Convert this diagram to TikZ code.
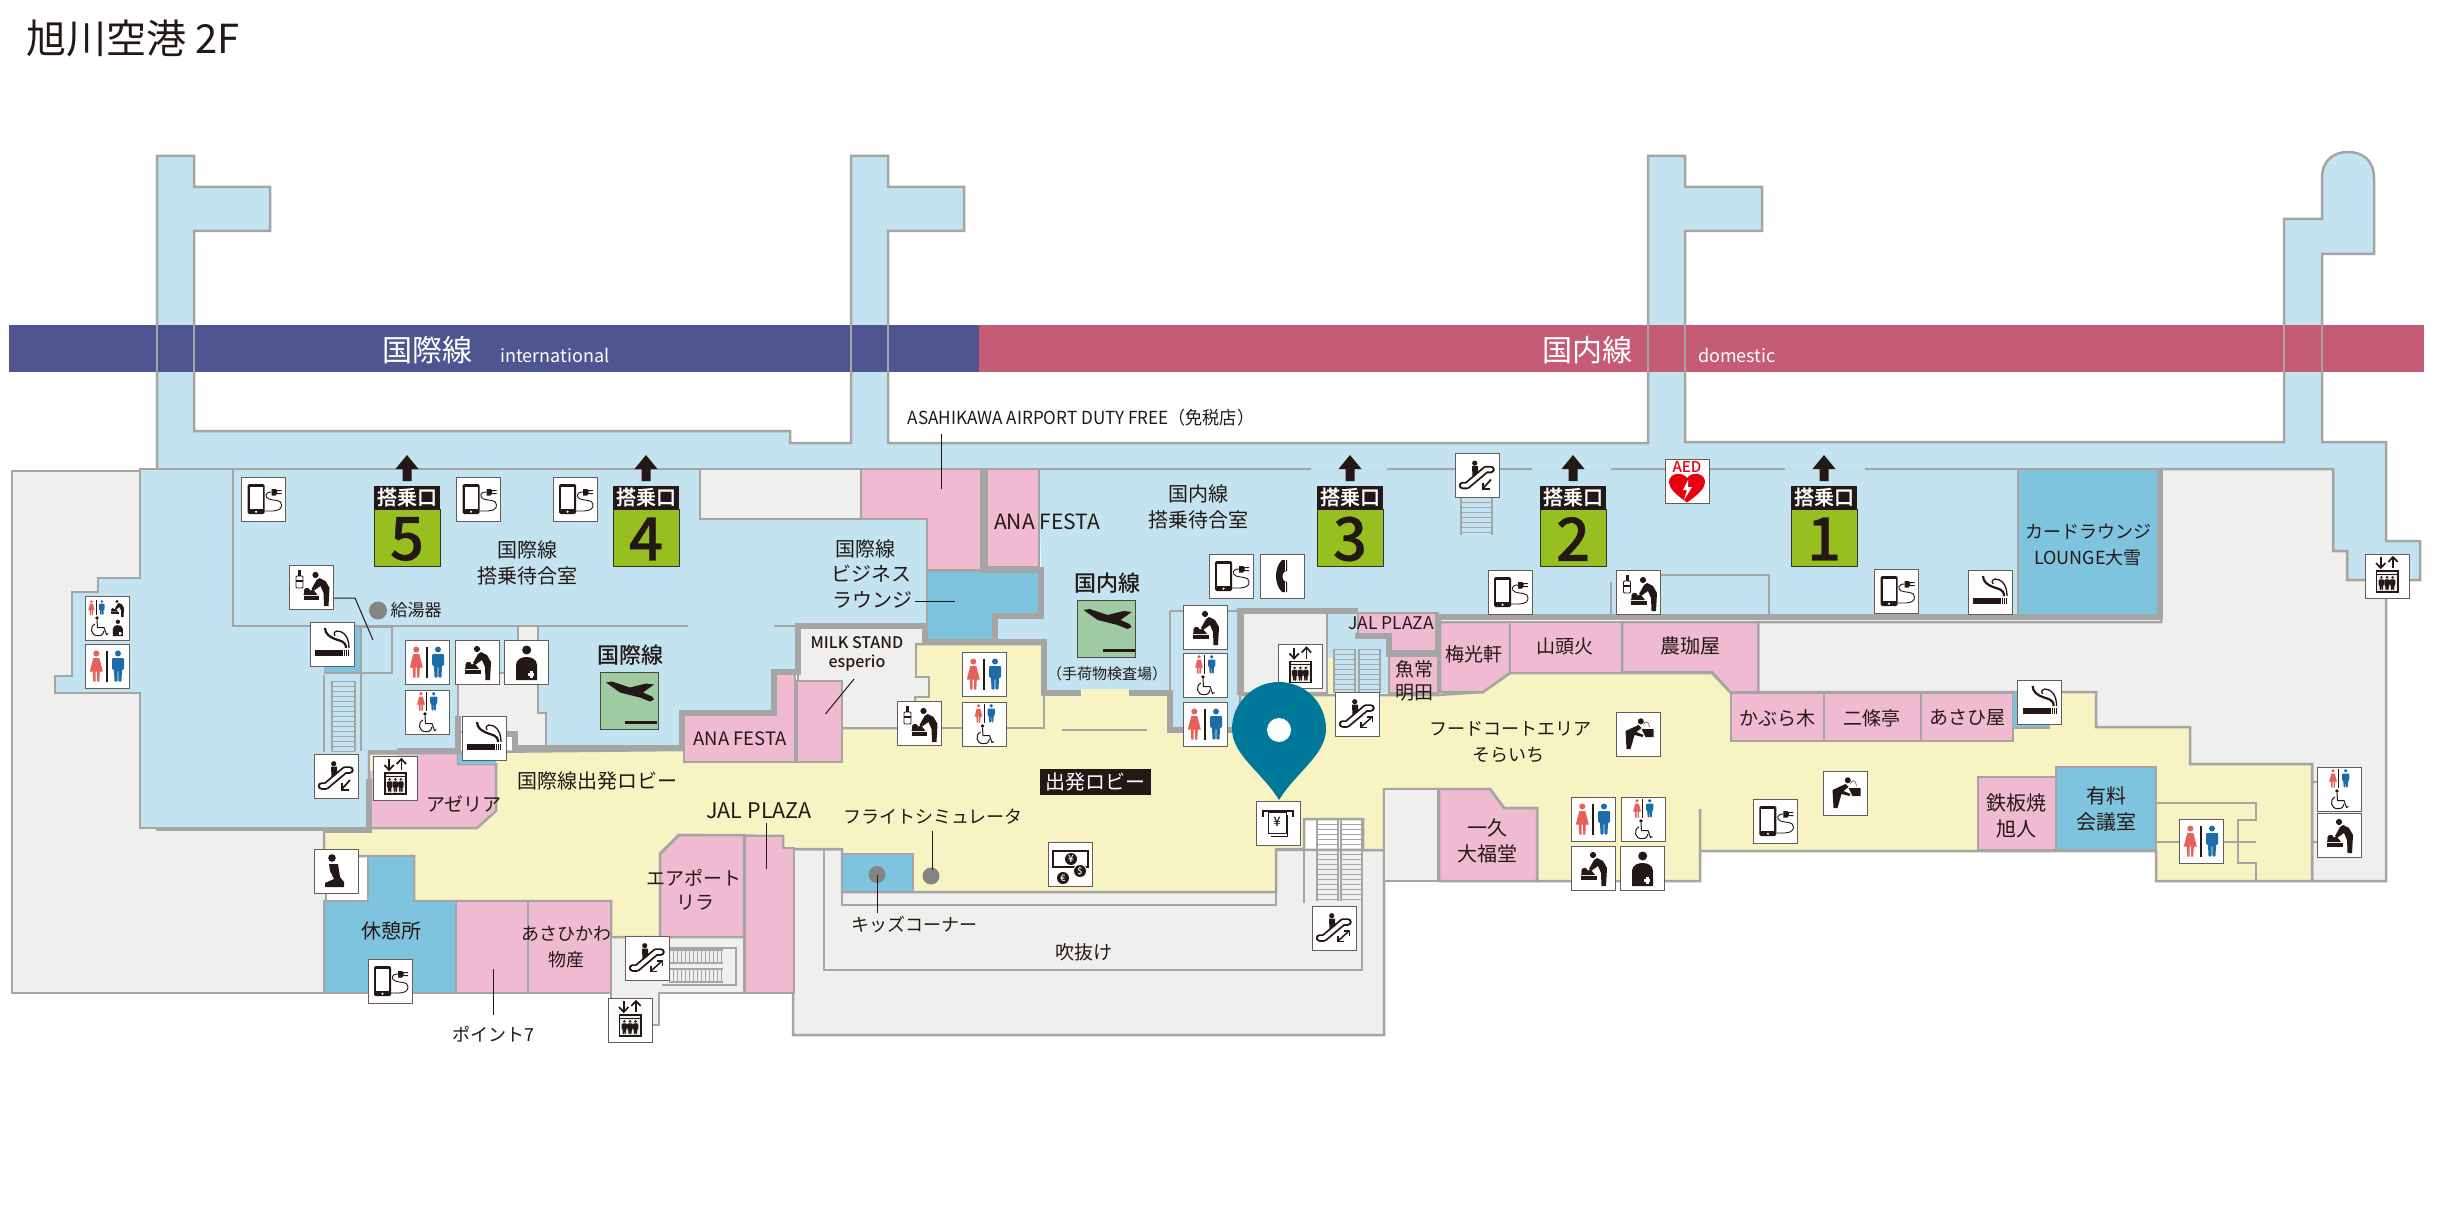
\documentclass[tikz,border=0pt]{standalone}
\usepackage{fontspec}
\setmainfont{Noto Sans CJK JP}
\newfontfamily\medf{Noto Sans CJK JP Medium}
\newfontfamily\gatef[FakeBold=0.5]{Noto Sans CJK JP Medium}
\definecolor{lbl}{HTML}{C3E3F0}
\definecolor{mbl}{HTML}{7FC4DF}
\definecolor{pnk}{HTML}{F0BBD0}
\definecolor{ylw}{HTML}{F7F3C2}
\definecolor{gry}{HTML}{EFEFED}
\definecolor{wallc}{HTML}{A5A5A5}
\definecolor{grn}{HTML}{97BF1F}
\definecolor{pln}{HTML}{9ECBA1}
\definecolor{bnav}{HTML}{4F5590}
\definecolor{brd}{HTML}{C45C76}
\definecolor{pinc}{HTML}{007899}
\definecolor{ink}{HTML}{231815}
\definecolor{frd}{HTML}{E8605A}
\definecolor{mbu}{HTML}{1B6CA8}
\definecolor{aedr}{HTML}{E60012}
\tikzset{
  wall/.style={draw=wallc,line width=2.5pt,line join=miter},
  twall/.style={draw=wallc,line width=6pt,line join=miter},
  stair/.style={draw=wallc,line width=1.3pt},
  leader/.style={draw=ink,line width=1pt},
  txt/.style={inner sep=0pt,text=ink,align=center},
  iconbox/.style={draw=ink!70,line width=1pt,fill=white},
}
\newcounter{lbc}
\newcommand\Lab[4]{\stepcounter{lbc}\node[txt,font=\fontsize{#3}{#3}\selectfont] (t\thelbc) at (#1,#2) {#4};}
\newcommand\LabN[4]{\stepcounter{lbc}\node[txt,font=\fontsize{#3}{#3}\selectfont] (t\thelbc) at (#1,#2) {\scalebox{.95}[1]{#4}};}
\newcommand\LabB[4]{\stepcounter{lbc}\node[txt,font=\medf\fontsize{#3}{#3}\selectfont] (t\thelbc) at (#1,#2) {#4};}
\newcommand\Man[4]{\begin{scope}[shift={(#1,#2)},scale=#3]\fill[#4] (0,3) circle[radius=3];
\fill[#4,rounded corners=1pt] (-6,7.5) -- (6,7.5) -- (6,19) -- (4,19) -- (3.5,31) -- (0.5,31) -- (0.3,20) -- (-0.3,20) -- (-0.5,31) -- (-3.5,31) -- (-4,19) -- (-6,19) -- cycle;\end{scope}}
\newcommand\Woman[4]{\begin{scope}[shift={(#1,#2)},scale=#3]\fill[#4] (0,3) circle[radius=3];
\fill[#4] (-3,7.5) -- (3,7.5) -- (6.5,21) -- (3.5,21) -- (3,31) -- (0.8,31) -- (0.8,21) -- (-0.8,21) -- (-0.8,31) -- (-3,31) -- (-3.5,21) -- (-6.5,21) -- cycle;\end{scope}}
\newcommand\icCharge{\fill[ink,rounded corners=1.5pt] (6,7) rectangle (23,37);\fill[white] (8,10) rectangle (21,32);\fill[white] (14.5,34.7) circle[radius=1.2];
\fill[ink] (30,12) -- (34,12) -- (35,13) -- (40,13) -- (40,14.2) -- (35.5,14.2) -- (35.5,16) -- (40,16) -- (40,17.2) -- (35,17.2) -- (34,18.5) -- (30,18.5) -- cycle;
\draw[ink,line width=.9pt] (30,15) .. controls (23,15) and (23,20) .. (27,22) .. controls (32,24) and (40,22) .. (40,28) .. controls (40,35) and (30,34) .. (23,34);}
\newcommand\icSmoke{\fill[ink] (5,28) rectangle (33,34);\fill[ink] (34,28) rectangle (35.2,34);\fill[ink] (36,28) rectangle (37.2,34);\fill[ink] (38,28) rectangle (39.2,34);
\draw[ink,line width=2.2pt] (15,6) .. controls (15,12) and (20,15) .. (25,17) .. controls (30,19) and (36,19) .. (36,26);
\draw[ink,line width=1.3pt] (25,14) .. controls (23,11) and (25,9) .. (27,9) .. controls (32,9) and (39,13) .. (39,26);}
\newcommand\icBabyCore{\fill[ink] (22,9) circle[radius=3.1];\fill[ink] (26,12) -- (32,15) -- (36,22) -- (35,40) -- (30.5,40) -- (30,27) -- (27,20) -- (20,25) -- (18,23) -- (23,14) -- cycle;
\fill[ink] (13.5,25) circle[radius=3.2];\fill[ink] (10,29) -- (11,25) -- (20,24) -- (24,29) -- cycle;\fill[ink] (10,30.3) rectangle (25.5,33.5);}
\newcommand\icBaby{\icBabyCore}
\newcommand\icBabyB{\begin{scope}[shift={(4.5,1)}]\icBabyCore\end{scope}\draw[ink,line width=.9pt,rounded corners=1pt] (7,11) rectangle (14,23);\fill[ink] (9,5) rectangle (12,11);\fill[ink] (7,15) rectangle (14,17);}
\newcommand\icNurse{\fill[ink] (22.7,10) circle[radius=4.5];\fill[ink] (12,40) -- (12,25) .. controls (12,19) and (18,17) .. (22.5,17) .. controls (27,17) and (33,19) .. (33,25) -- (33,40) -- cycle;\fill[white] (26,31) rectangle (28.6,37.5);\fill[white] (24.2,33) rectangle (30.4,35.6);}
\newcommand\icToilet{\Woman{11.3}{6.5}{1}{frd}\Man{33}{6.5}{1}{mbu}\draw[ink,line width=1.8pt] (22,7) -- (22,38);}
\newcommand\icChair{\fill[ink] (20,24) circle[radius=1.8];\draw[ink,line width=1pt] (20,26) -- (20.5,33.5) -- (27,33.5) -- (29.5,40.5) -- (31.5,39.5);\draw[ink,line width=1pt] (18,30) .. controls (12,33) and (14,42) .. (21,41.7) .. controls (25,41.7) and (27,39.5) .. (27,37);}
\newcommand\icWheel{\Woman{16}{2}{.6}{frd}\Man{28.7}{2}{.6}{mbu}\draw[ink,line width=1.1pt] (21.7,2) -- (21.7,20.5);\icChair}
\newcommand\icMulti{\begin{scope}[shift={(1,1)},scale=.48]\icToilet\end{scope}\begin{scope}[shift={(21,1)},scale=.5]\icBabyCore\end{scope}\begin{scope}[shift={(-8,-2)}]\icChair\end{scope}\begin{scope}[shift={(22,21)},scale=.48]\icNurse\end{scope}}
\newcommand\icPray{\fill[ink] (18,9) circle[radius=3.8];\fill[ink] (15,15) -- (24,15) -- (26,28) -- (30,33) -- (30,38) -- (11,38) -- (11,34) -- (20,30) -- (16,22) -- cycle;}
\newcommand\icEscShape{\draw[ink,line width=7.5pt,line cap=round,line join=round] (7.5,32) -- (12,32) -- (31,16) -- (36,16);\draw[white,line width=3.8pt,line cap=round,line join=round] (7.5,32) -- (12,32) -- (31,16) -- (36,16);\fill[ink] (19.7,9.7) circle[radius=2.6];\fill[ink] (17,12.5) -- (23,12.5) -- (23,20) -- (17.5,24) -- cycle;}
\newcommand\icEscDown{\icEscShape\draw[ink,line width=1.7pt] (36,26) -- (28,35);\draw[ink,line width=1.7pt] (28,29) -- (28,35.7) -- (35,35.7);}
\newcommand\icEscBoth{\icEscShape\draw[ink,line width=1.5pt] (37,25) -- (26,35);\draw[ink,line width=1.5pt] (26,30) -- (26,35.5) -- (32,35.5);\draw[ink,line width=1.5pt] (32,25) -- (37.3,25) -- (37.3,30);}
\newcommand\icElev{\draw[ink,line width=1.7pt] (15.7,3) -- (15.7,13.5);\draw[ink,line width=1.7pt] (11,9) -- (15.7,14) -- (20.4,9);\draw[ink,line width=1.7pt] (28,14) -- (28,3.5);\draw[ink,line width=1.7pt] (23.3,8) -- (28,3) -- (32.7,8);
\draw[ink,line width=1.8pt,fill=gry] (11.5,17) rectangle (32.7,38);\draw[ink,line width=.8pt] (11.5,20) -- (32.7,20);\Man{16.3}{22}{.46}{ink}\Man{22}{22}{.46}{ink}\Man{27.5}{22}{.46}{ink}}
\newcommand\icPhone{\fill[ink] (22,6) -- (27,6) -- (27,17) -- (24,18) .. controls (22,21) and (22,24) .. (24,27) -- (27,28) -- (27,38) -- (22,38) .. controls (14,30) and (14,14) .. (22,6) -- cycle;\draw[white,line width=.7pt] (25,6) -- (25,17) (25,28) -- (25,38);}
\newcommand\icAED{\node[inner sep=0pt,text=aedr,font=\medf\fontsize{15}{15}\selectfont] (aedtext\theicc) at (22,8) {AED};
\fill[aedr] (22,43.5) .. controls (10,35) and (4,29) .. (4,23) .. controls (4,14) and (17,12) .. (22,19) .. controls (27,12) and (40,14) .. (40,23) .. controls (40,29) and (34,35) .. (22,43.5) -- cycle;\fill[white] (23,21) -- (18,31) -- (22,31) -- (19,41) -- (27,28) -- (23,28) -- cycle;}
\newcommand\icATM{\draw[ink,line width=2.2pt] (7,16) -- (7,10) -- (37,10) -- (37,16);\draw[ink,line width=1pt,fill=white] (12.3,11) rectangle (30,32);\draw[ink,line width=1pt] (31.5,14) -- (31.5,35) -- (15,35);\node[inner sep=0pt,text=ink,font=\medf\fontsize{13}{13}\selectfont] (atmy\theicc) at (21,21) {¥};}
\newcommand\icCurr{\draw[ink,line width=1.5pt] (5,9) rectangle (40,25);\fill[ink] (23,17) circle[radius=6];\node[inner sep=0pt,text=white,font=\medf\fontsize{10}{10}\selectfont] (cy\theicc) at (23,17) {¥};\fill[white] (15,36) circle[radius=7];\fill[ink] (15,36) circle[radius=6];\node[inner sep=0pt,text=white,font=\medf\fontsize{9}{9}\selectfont] (ce\theicc) at (15,36) {€};\fill[white] (32,29) circle[radius=7];\fill[ink] (32,29) circle[radius=6];\node[inner sep=0pt,text=white,font=\medf\fontsize{9}{9}\selectfont] (cd\theicc) at (32,29) {\$};}
\newcommand\icWater{\fill[ink] (24.3,9.3) circle[radius=3];\fill[ink] (22,13) -- (25,16) -- (20,20) -- (27,23) -- (26,25) -- (18,23) -- (14,37) -- (10,37) -- (9,19) -- cycle;\fill[ink] (25,17) -- (37,17) -- (37,25) -- (29,25) -- cycle;\draw[ink!70,line width=.6pt] (27,13) .. controls (28,9) and (32,8) .. (33,15);}
\newcounter{icc}
\newcommand\Ico[3]{\stepcounter{icc}\begin{scope}[shift={(#1,#2)}]\node[iconbox,minimum width=44pt,minimum height=44pt,inner sep=0pt] (ic\theicc) at (22,22) {};\csname ic#3\endcsname\end{scope}}
\newcommand\Plane[3]{\begin{scope}[shift={(#1,#2)}]\node[draw=ink!80,line width=1pt,fill=pln,minimum width=58pt,minimum height=57pt,inner sep=0pt] (#3) at (29,28.5) {};
\fill[ink] (6,10) -- (12,9) -- (30,15) -- (46,11) -- (54,12) -- (43,20) -- (52,24) -- (54,27) -- (50,29) -- (40,25) -- (20,20) -- cycle;\fill[ink] (25,48.5) rectangle (57,51.5);\end{scope}}
\newcommand\Gate[2]{\begin{scope}[shift={(#1,0)}]\fill[ink] (33,455) -- (44.5,469) -- (37.5,469) -- (37.5,481) -- (28.5,481) -- (28.5,469) -- (21.5,469) -- cycle;
\fill[grn,draw=ink!90,line width=1pt] (0,509) rectangle (66,566);\fill[ink] (0,486) rectangle (66,510);
\node[inner sep=0pt,text=white,font=\gatef\fontsize{20}{20}\selectfont] (gh#2) at (33,497) {搭乗口};
\node[inner sep=0pt,text=ink,font=\gatef\fontsize{60}{60}\selectfont] (gn#2) at (33,539) {#2};\end{scope}}
\newcommand\LadV[4]{\draw[stair] (#1,#2) -- (#1,#4) (#3,#2) -- (#3,#4);\foreach \t in {#2,\the\numexpr#2+5\relax,...,#4}{\draw[stair,line width=1pt] (#1,\t) -- (#3,\t);}}
\newcommand\LadH[4]{\draw[stair] (#1,#2) -- (#3,#2) (#1,#4) -- (#3,#4);\foreach \t in {#1,\the\numexpr#1+4\relax,...,#3}{\draw[stair,line width=1pt] (\t,#2) -- (\t,#4);}}
\begin{document}
\begin{tikzpicture}[x=1pt,y=-1pt]
\useasboundingbox (0,0) rectangle (2460,1230);
\fill[white] (0,0) rectangle (2460,1230);
% jetties and corridor
\path[wall,fill=lbl] (157,472) -- (157,156) -- (194,156) -- (194,187) -- (270,187) -- (270,231) -- (194,231) -- (194,431) -- (790,431) -- (790,443) -- (851,443) -- (851,156) -- (888,156) -- (888,187) -- (964,187) -- (964,231) -- (888,231) -- (888,443) -- (1648,443) -- (1648,156) -- (1685,156) -- (1685,187) -- (1762,187) -- (1762,231) -- (1685,231) -- (1685,442) -- (2284,442) -- (2284,219) -- (2322,219) -- (2322,178) .. controls (2322,160) and (2334,152) .. (2348,152) .. controls (2362,152) and (2374,160) .. (2374,178) -- (2374,254) -- (2322,254) -- (2322,442) -- (2386,442) -- (2386,541) -- (2420,541) -- (2420,580) -- (2347,580) -- (2347,551) -- (2333,551) -- (2333,472) -- cycle;
% band
\fill[bnav] (9,325) rectangle (979,372);
\fill[brd] (979,325) rectangle (2424,372);
\foreach \xx in {157,194,851,888,1648,1685,2284,2322}{\draw[wallc,line width=1.4pt] (\xx,325) -- (\xx,372);}
\node[inner sep=0pt,text=white,font=\fontsize{30}{30}\selectfont] (bandi) at (427,350) {国際線};
\node[inner sep=0pt,text=white,font=\fontsize{18}{18}\selectfont] (bandie) at (555,355) {international};
\node[inner sep=0pt,text=white,font=\fontsize{30}{30}\selectfont] (bandd) at (1587,350) {国内線};
\node[inner sep=0pt,text=white,font=\fontsize{18}{18}\selectfont] (bandde) at (1737,355) {domestic};
% grey base
\path[wall,fill=gry] (12,471) -- (157,471) -- (157,830) -- (326,830) -- (326,993) -- (12,993) -- cycle;
\path[wall,fill=gry] (2161,469) -- (2333,469) -- (2333,551) -- (2347,551) -- (2347,580) -- (2386,580) -- (2386,881) -- (2312,881) -- (2312,764) -- (2100,764) -- (1758,692) -- (1758,622) -- (2161,622) -- cycle;
\path[wall,fill=gry] (793,849) -- (793,1035) -- (1384,1035) -- (1384,850) -- cycle;
\path[wall,fill=gry] (611,937) -- (744,937) -- (744,993) -- (659,993) -- (659,1025) -- (611,1025) -- cycle;
% blue rooms
\path[wall,fill=lbl] (140,469) -- (700,469) -- (700,519) -- (927,519) -- (927,624) -- (798,624) -- (798,672) -- (774,672) -- (774,713) -- (682,713) -- (682,748) -- (515,748) -- (515,732) -- (458,732) -- (458,751) -- (369,751) -- (369,828) -- (140,828) -- (140,693) -- (55,693) -- (55,676) -- (72,676) -- (72,592) -- (98,592) -- (98,578) -- (140,578) -- cycle;
\fill[lbl] (1039,471) -- (2160,471) -- (2160,619) -- (1438,619) -- (1438,693) -- (1240,693) -- (1240,730) -- (1170,730) -- (1170,693) -- (1044,693) -- (1044,642) -- (995,642) -- (995,616) -- (1041,616) -- (1041,570) -- cycle;
% yellow
\path[wall,fill=ylw] (324,831) -- (369,831) -- (369,753) -- (682,750) -- (682,716) -- (842,716) -- (842,728) -- (915,728) -- (915,644) -- (1044,644) -- (1044,693) -- (1170,693) -- (1170,730) -- (1240,730) -- (1240,695) -- (1438,695) -- (1483,692) -- (1510,673) -- (1712,673) -- (1730,692) -- (2096,692) -- (2096,727) -- (2190,727) -- (2190,764) -- (2312,764) -- (2312,881) -- (2156,881) -- (2156,851) -- (1700,851) -- (1700,809) -- (1700,881) -- (1537,881) -- (1537,808) -- (1504,808) -- (1490,789) -- (1384,789) -- (1384,850) -- (1363,850) -- (1363,819) -- (1304,819) -- (1304,849) -- (1276,849) -- (1276,892) -- (842,892) -- (842,849) -- (794,849) -- (783,848) -- (783,836) -- (679,835) -- (660,854) -- (660,937) -- (611,937) -- (611,901) -- (414,901) -- (414,856) -- (324,856) -- cycle;
\fill[ylw] (1081,689) rectangle (1129,697);
\fill[ylw] (1327,658) rectangle (1334,693);
\draw[wall] (1700,809) -- (1700,851);
\draw[wall] (1062,730) -- (1147,730);
\draw[wall] (915,728) -- (1044,728) -- (1044,693);
% grey rooms
\path[wall,fill=gry] (798,628) -- (925,628) -- (925,644) -- (916,644) -- (916,677) -- (929,677) -- (929,697) -- (915,697) -- (915,728) -- (842,728) -- (842,681) -- (798,681) -- cycle;
\path[wall,fill=gry] (458,673) -- (538,673) -- (538,713) -- (546,713) -- (546,748) -- (515,748) -- (515,732) -- (458,732) -- cycle;
\path[fill=gry] (518,627) rectangle (538,645);
\draw[wall] (518,627) -- (518,640) (538,627) -- (538,713);
\path[fill=gry] (700,469) rectangle (861,519);
\draw[wall] (700,469) -- (700,519) -- (861,519);
\path[wall,fill=gry] (1243,613) rectangle (1327,693);
\path[wall,fill=gry] (1384,789) rectangle (1438,881);
% void lines
\draw[wall] (824,849) -- (824,970) -- (1362,970) -- (1362,819);
\draw[wall] (842,892) -- (842,905) -- (1276,905) -- (1276,892);
\draw[wall] (1304,849) -- (1304,903);
% pink
\path[wall,fill=pnk] (861,469) -- (981,469) -- (981,570) -- (927,570) -- (927,519) -- (861,519) -- cycle;
\path[wall,fill=pnk] (987,469) -- (1039,469) -- (1039,567) -- (987,567) -- cycle;
\path[wall,fill=pnk] (684,715) -- (776,715) -- (776,672) -- (795,672) -- (795,762) -- (684,762) -- cycle;
\path[wall,fill=pnk] (797,681) -- (842,681) -- (842,762) -- (797,762) -- cycle;
\path[wall,fill=pnk] (369,753) -- (458,753) -- (458,764) -- (496,764) -- (496,811) -- (477,828) -- (369,828) -- cycle;
\fill[ylw] (370,755) rectangle (397,771);
\path[wall,fill=pnk] (660,854) -- (679,835) -- (744,835) -- (744,937) -- (660,937) -- cycle;
\path[wall,fill=pnk] (745,836) -- (783,836) -- (783,848) -- (794,848) -- (794,993) -- (745,993) -- cycle;
\path[wall,fill=pnk] (456,901) -- (528,901) -- (528,993) -- (456,993) -- cycle;
\path[wall,fill=pnk] (528,901) -- (611,901) -- (611,993) -- (528,993) -- cycle;
\path[wall,fill=pnk] (1358,613) -- (1438,613) -- (1438,651) -- (1389,651) -- (1389,636) -- (1358,636) -- cycle;
\path[wall,fill=pnk] (1389,656) -- (1438,656) -- (1438,693) -- (1389,693) -- cycle;
\path[wall,fill=pnk] (1440,622) -- (1510,622) -- (1510,673) -- (1483,692) -- (1440,692) -- cycle;
\path[wall,fill=pnk] (1510,622) -- (1622,622) -- (1622,673) -- (1510,673) -- cycle;
\path[wall,fill=pnk] (1622,622) -- (1758,622) -- (1758,692) -- (1730,692) -- (1712,672) -- (1622,672) -- cycle;
\path[wall,fill=pnk] (1731,693) rectangle (1824,741);
\path[wall,fill=pnk] (1824,693) rectangle (1921,741);
\path[wall,fill=pnk] (1921,693) rectangle (2013,741);
\path[wall,fill=pnk] (1439,789) -- (1490,789) -- (1504,808) -- (1537,808) -- (1537,881) -- (1439,881) -- cycle;
\path[wall,fill=pnk] (1978,777) rectangle (2056,850);
% mid blue
\path[wall,fill=mbl] (368,856) -- (414,856) -- (414,901) -- (456,901) -- (456,993) -- (324,993) -- (324,901) -- (368,901) -- cycle;
\path[wall,fill=mbl] (2018,469) rectangle (2158,617);
\path[wall,fill=mbl] (927,571) -- (1039,571) -- (1039,616) -- (995,616) -- (995,640) -- (927,640) -- cycle;
\path[wall,fill=mbl] (842,854) rectangle (913,892);
\path[wall,fill=mbl] (2056,767) rectangle (2156,850);
\fill[mbl] (2013,693) rectangle (2050,728);
\draw[wall] (2013,728) -- (2050,728);
\fill[mbl] (324,627) rectangle (361,673);
\fill[mbl] (458,753) rectangle (496,764);
% thin room lines
\draw[wall] (233,469) -- (233,626) -- (688,626);
\draw[wall] (774,626) -- (797,626);
\draw[wall] (361,627) -- (392,627) -- (392,673) -- (324,673);
\draw[wall] (361,627) -- (361,751);
\draw[wall] (324,675) -- (324,752);
\draw[wall] (1170,611) -- (1240,611);
\draw[wall] (1170,611) -- (1170,693);
\draw[wall] (1611,582) -- (1611,617);
\draw[wall] (1660,575) -- (1769,575) -- (1769,617);
\draw[wall] (1327,613) -- (1327,693);
\draw[wall] (2156,803) -- (2256,803) -- (2256,820) -- (2238,820) -- (2238,863) -- (2256,863) -- (2256,881);
\draw[wall] (2156,842) -- (2180,842) (2223,842) -- (2256,842);
\draw[wall] (2312,782) -- (2318,782) (2312,842) -- (2318,842);
% gate wall
\draw[wall] (157,469) -- (373,469) (443,469) -- (611,469) (678,469) -- (1311,469) (1387,469) -- (1532,469) (1611,469) -- (1785,469) (1865,469) -- (2333,469);
% thick walls
\draw[twall] (984,469) -- (984,570) -- (1041,570) -- (1041,616) -- (995,616) -- (995,642) -- (925,642) -- (925,626) -- (798,626) -- (798,672) -- (774,672) -- (774,713) -- (682,713) -- (682,748) -- (515,748) -- (515,734) -- (505,734);
\draw[twall] (397,751) -- (458,751) -- (458,716);
\draw[twall] (369,779) -- (369,830) -- (324,830);
\draw[twall] (995,642) -- (1044,642) -- (1044,693) -- (1081,693);
\draw[twall] (1129,693) -- (1170,693) -- (1170,730) -- (1232,730);
\draw[twall] (1240,695) -- (1240,611) -- (1358,611);
\draw[twall] (1355,636) -- (1389,636) -- (1389,654) -- (1438,654) -- (1438,617) -- (2160,617) -- (2160,469);
% stairs
\LadV{332}{681}{355}{751}
\LadV{1334}{649}{1355}{693}
\LadV{1359}{649}{1380}{693}
\LadV{1317}{819}{1338}{901}
\LadV{1341}{819}{1362}{901}
\LadV{1461}{497}{1492}{535}
\draw[wall] (662,948) -- (736,948) -- (736,985) -- (662,985);
\LadH{669}{950}{723}{963}
\LadH{669}{969}{723}{982}
% dots and leaders
\fill[wallc!80!black] (378,610.5) circle[radius=9];
\fill[wallc!80!black] (931,876) circle[radius=8.5];
\fill[wallc!80!black] (877,874.5) circle[radius=8.5];
\draw[leader] (334,598) -- (355,598) -- (373,640);
\draw[leader] (941,434) -- (941,489);
\draw[leader] (493,969) -- (493,1015);
\draw[leader] (766,823) -- (766,869);
\draw[leader] (915,601) -- (955,601);
\draw[leader] (854,679) -- (825.5,714);
\draw[leader] (932,831) -- (932,870);
\draw[leader] (877,875) -- (877,913);
% labels
\node[txt,anchor=west,font=\fontsize{40}{40}\selectfont] (title) at (26,38) {旭川空港 2F};
\LabN{1081}{418}{18}{ASAHIKAWA AIRPORT DUTY FREE（免税店）}
\Lab{527}{550}{20}{国際線}
\Lab{527}{576}{20}{搭乗待合室}
\Lab{416}{610.5}{17}{給湯器}
\LabB{630}{655}{22}{国際線}
\Lab{740}{739}{18.5}{ANA FESTA}
\Lab{597}{781}{20}{国際線出発ロビー}
\Lab{464}{804}{19}{アゼリア}
\Lab{759}{810.5}{21.5}{JAL PLAZA}
\Lab{694}{878}{19}{エアポート}
\Lab{695}{903}{19}{リラ}
\Lab{391}{931}{20}{休憩所}
\Lab{566}{934}{18}{あさひかわ}
\Lab{566}{960}{18}{物産}
\Lab{493}{1034}{18}{ポイント7}
\Lab{1198}{494}{20}{国内線}
\Lab{1198}{520}{20}{搭乗待合室}
\Lab{1047}{522}{21}{ANA FESTA}
\Lab{865}{548.5}{20}{国際線}
\Lab{871.5}{574}{20}{ビジネス}
\Lab{872.5}{600}{20}{ラウンジ}
\LabB{857}{643}{16}{MILK STAND}
\LabB{857}{663}{16}{esperio}
\LabB{1107}{583}{22}{国内線}
\Lab{1107}{674}{15}{（手荷物検査場）}
\fill[ink] (1040,769) rectangle (1151,795);
\node[inner sep=0pt,text=white,font=\fontsize{20}{20}\selectfont] (lobby) at (1095.5,782) {出発ロビー};
\Lab{933}{817}{18}{フライトシミュレータ}
\Lab{914}{925}{18}{キッズコーナー}
\Lab{1084}{952}{19}{吹抜け}
\Lab{1510}{729}{18}{フードコートエリア}
\Lab{1508}{755}{18}{そらいち}
\Lab{1487}{828}{20}{一久}
\Lab{1487}{854}{20}{大福堂}
\Lab{1474}{654}{19}{梅光軒}
\Lab{1565}{646}{19}{山頭火}
\Lab{1414}{669}{19}{魚常}
\Lab{1414}{693}{19}{明田}
\Lab{1391}{623}{17.5}{JAL PLAZA}
\Lab{2088}{532}{18}{カードラウンジ}
\Lab{2088}{558}{18}{LOUNGE大雪}
\Lab{1690.5}{646}{20}{農珈屋}
\Lab{1777.5}{718}{19}{かぶら木}
\Lab{1872}{718}{19}{二條亭}
\Lab{1967}{718}{19}{あさひ屋}
\Lab{2016.5}{803}{20}{鉄板焼}
\Lab{2016.5}{829}{20}{旭人}
\Lab{2106}{796}{20}{有料}
\Lab{2106}{822}{20}{会議室}
% gates
\Gate{374}{5}
\Gate{613}{4}
\Gate{1317}{3}
\Gate{1540}{2}
\Gate{1791}{1}
% plane signs
\Plane{600}{672.5}{planeI}
\Plane{1077.6}{600}{planeD}
% icons
\Ico{241.6}{477}{Charge}
\Ico{456.5}{477}{Charge}
\Ico{553}{477}{Charge}
\Ico{289}{565}{BabyB}
\Ico{310}{622}{Smoke}
\Ico{85}{596}{Multi}
\Ico{85}{644}{Toilet}
\Ico{405}{640}{Toilet}
\Ico{455}{640}{Baby}
\Ico{504}{640}{Nurse}
\Ico{405}{690}{Wheel}
\Ico{462}{716}{Smoke}
\Ico{314}{754}{EscDown}
\Ico{373.4}{756}{Elev}
\Ico{314}{849}{Pray}
\Ico{368}{959}{Charge}
\Ico{625}{936}{EscBoth}
\Ico{608}{998}{Elev}
\Ico{1209}{554}{Charge}
\Ico{1260}{554}{Phone}
\Ico{1455}{453.5}{EscDown}
\Ico{1488}{570}{Charge}
\Ico{1183}{605}{Baby}
\Ico{1183}{653}{Wheel}
\Ico{1183}{702}{Toilet}
\Ico{1278.4}{644.5}{Elev}
\Ico{1335}{692}{EscBoth}
\Ico{1256}{801}{ATM}
\Ico{1048}{842}{Curr}
\Ico{1312}{906}{EscBoth}
\Ico{962}{652}{Toilet}
\Ico{962.5}{702}{Wheel}
\Ico{897}{701}{BabyB}
\Ico{1571}{797}{Toilet}
\Ico{1621}{797}{Wheel}
\Ico{1571}{846}{Baby}
\Ico{1620}{846}{Nurse}
\Ico{1665}{459}{AED}
\Ico{1616.5}{570}{BabyB}
\Ico{1874.5}{569}{Charge}
\Ico{1968}{570}{Smoke}
\Ico{2017.6}{680}{Smoke}
\Ico{2365}{554}{Elev}
\Ico{1616.5}{712}{Water}
\Ico{1823.5}{771}{Water}
\Ico{1753.4}{799}{Charge}
\Ico{2179}{819}{Toilet}
\Ico{2317}{767}{Wheel}
\Ico{2317}{813}{Baby}
% pin
\fill[pinc] (1279,800) .. controls (1262,772) and (1232,755) .. (1232,729) .. controls (1232,703) and (1253,682) .. (1279,682) .. controls (1305,682) and (1326,703) .. (1326,729) .. controls (1326,755) and (1296,772) .. (1279,800) -- cycle;
\fill[white] (1279,730) circle[radius=12];
\end{tikzpicture}
\end{document}
